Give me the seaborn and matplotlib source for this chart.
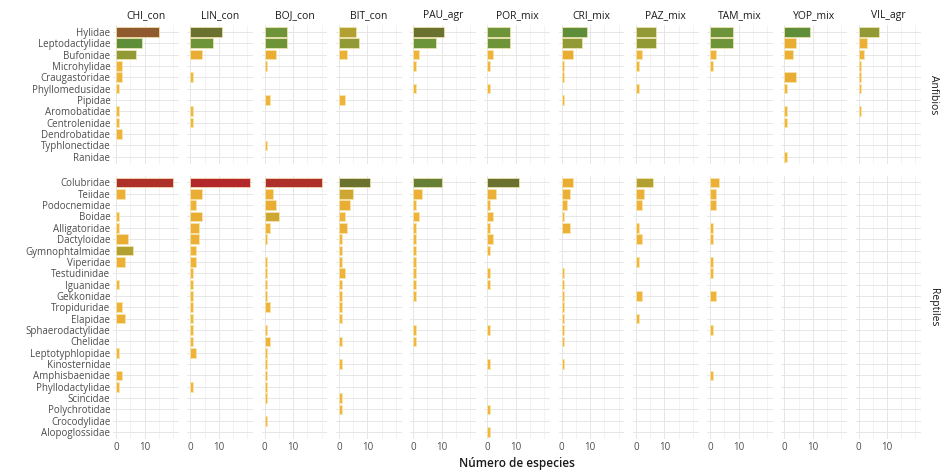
import matplotlib
matplotlib.use("Agg")
import matplotlib.pyplot as plt
from matplotlib.colors import LinearSegmentedColormap
import pandas as pd
import seaborn as sns

sitios = ["CHI_con", "LIN_con", "BOJ_con", "BIT_con", "PAU_agr", "POR_mix",
          "CRI_mix", "PAZ_mix", "TAM_mix", "YOP_mix", "VIL_agr"]

fam_anfibios = ["Hylidae", "Leptodactylidae", "Bufonidae", "Microhylidae",
                "Craugastoridae", "Phyllomedusidae", "Pipidae", "Aromobatidae",
                "Centrolenidae", "Dendrobatidae", "Typhlonectidae", "Ranidae"]

fam_reptiles = ["Colubridae", "Teiidae", "Podocnemidae", "Boidae", "Alligatoridae",
                "Dactyloidae", "Gymnophtalmidae", "Viperidae", "Testudinidae",
                "Iguanidae", "Gekkonidae", "Tropiduridae", "Elapidae",
                "Sphaerodactylidae", "Chelidae", "Leptotyphlopidae", "Kinosternidae",
                "Amphisbaenidae", "Phyllodactylidae", "Scincidae", "Polychrotidae",
                "Crocodylidae", "Alopoglossidae"]

# especies por familia y sitio (anfibios)
anf_CHI = [15, 9, 7, 2, 2, 1, 0, 1, 1, 2, 0, 0]
anf_LIN = [11, 8, 4, 0, 1, 0, 0, 1, 1, 0, 0, 0]
anf_BOJ = [8, 8, 4, 1, 0, 0, 2, 0, 0, 0, 1, 0]
anf_BIT = [6, 7, 3, 0, 0, 0, 2, 0, 0, 0, 0, 0]
anf_PAU = [11, 8, 2, 1, 0, 1, 0, 0, 0, 0, 0, 0]
anf_POR = [8, 8, 2, 1, 0, 1, 0, 0, 0, 0, 0, 0]
anf_CRI = [9, 7, 4, 1, 1, 0, 1, 0, 0, 0, 0, 0]
anf_PAZ = [7, 7, 2, 1, 0, 1, 0, 0, 0, 0, 0, 0]
anf_TAM = [8, 8, 2, 1, 0, 0, 0, 0, 0, 0, 0, 0]
anf_YOP = [9, 4, 3, 0, 4, 1, 0, 1, 1, 0, 0, 1]
anf_VIL = [7, 3, 2, 1, 1, 1, 0, 1, 0, 0, 0, 0]

# reptiles
rep_CHI = [20, 3, 0, 1, 1, 4, 6, 3, 0, 1, 0, 2, 3, 0, 0, 1, 0, 2, 1, 0, 0, 0, 0]
rep_LIN = [21, 4, 2, 4, 3, 3, 2, 2, 1, 1, 1, 1, 1, 1, 1, 2, 0, 0, 1, 0, 0, 0, 0]
rep_BOJ = [20, 3, 4, 5, 2, 1, 0, 1, 1, 1, 1, 2, 0, 1, 2, 1, 1, 1, 1, 1, 0, 1, 0]
rep_BIT = [11, 5, 4, 2, 3, 1, 1, 1, 2, 1, 1, 1, 1, 0, 1, 0, 1, 0, 0, 1, 1, 0, 0]
rep_PAU = [10, 3, 1, 2, 1, 1, 1, 1, 1, 1, 1, 0, 0, 1, 1, 0, 0, 0, 0, 0, 0, 0, 0]
rep_POR = [11, 3, 1, 2, 1, 2, 1, 0, 1, 1, 0, 0, 0, 1, 0, 0, 1, 0, 0, 0, 1, 0, 1]
rep_CRI = [4, 3, 2, 1, 3, 0, 0, 0, 1, 1, 1, 1, 1, 1, 1, 0, 1, 0, 0, 0, 0, 0, 0]
rep_PAZ = [6, 3, 2, 0, 1, 2, 0, 1, 0, 0, 2, 0, 1, 0, 0, 0, 0, 0, 0, 0, 0, 0, 0]
rep_TAM = [3, 2, 2, 0, 1, 1, 0, 1, 1, 0, 2, 0, 0, 1, 0, 0, 0, 1, 0, 0, 0, 0, 0]
rep_YOP = [0] * 23
rep_VIL = [0] * 23

anfibios = [anf_CHI, anf_LIN, anf_BOJ, anf_BIT, anf_PAU, anf_POR,
            anf_CRI, anf_PAZ, anf_TAM, anf_YOP, anf_VIL]
reptiles = [rep_CHI, rep_LIN, rep_BOJ, rep_BIT, rep_PAU, rep_POR,
            rep_CRI, rep_PAZ, rep_TAM, rep_YOP, rep_VIL]

# gradiente amarillo -> verde -> rojo
vmin, vmax = 1, 21
nodos = [(1, "#F2B63C"), (4, "#E9AD33"), (6, "#B3A030"), (8, "#6C9438"),
         (9, "#5E8E3A"), (11, "#6B7230"), (15, "#8E5A2E"), (21, "#B3282A")]
cmap = LinearSegmentedColormap.from_list(
    "esp", [((v - vmin) / (vmax - vmin), c) for v, c in nodos])

def color(v):
    return cmap((v - vmin) / (vmax - vmin))

sns.set_style("white")
plt.rcParams["font.family"] = ["Open Sans", "DejaVu Sans"]

fig, axes = plt.subplots(2, 11, figsize=(9.43, 4.72), dpi=100,
                         gridspec_kw={"height_ratios": [12.2, 23.2]})
fig.subplots_adjust(left=0.12, right=0.977, top=0.947, bottom=0.07,
                    wspace=0.13, hspace=0.06)

grupos = [("Anfibios", fam_anfibios, anfibios), ("Reptiles", fam_reptiles, reptiles)]

for r, (grupo, cats, datos) in enumerate(grupos):
    for c, sitio in enumerate(sitios):
        ax = axes[r, c]
        df = pd.DataFrame({"familia": cats, "n": datos[c]})
        df = df[df["n"] > 0]
        if len(df):
            pal = {f: color(v) for f, v in zip(df["familia"], df["n"])}
            sns.barplot(data=df, x="n", y="familia", order=cats, hue="familia",
                        palette=pal, saturation=1, legend=False, ax=ax, width=0.85,
                        edgecolor="#F6E7B0", linewidth=0.5, orient="h")
        ax.set_yticks(range(len(cats)))
        ax.set_yticklabels(cats)
        ax.set_ylim(len(cats) - 0.4, -0.6)
        ax.set_xlim(-1.05, 22.05)
        ax.set_xticks([0, 10])
        ax.set_xticklabels(["0", "10"])
        ax.set_xticks([5, 15, 20], minor=True)
        ax.set_axisbelow(True)
        ax.grid(True, which="major", color="#E6E6E6", lw=0.7)
        ax.grid(True, which="minor", axis="x", color="#EEEEEE", lw=0.5)
        ax.set_xlabel("")
        ax.set_ylabel("")
        for s in ax.spines.values():
            s.set_visible(False)
        ax.tick_params(length=0, which="both", labelsize=7, colors="#4D4D4D", pad=2)
        if c > 0:
            ax.tick_params(labelleft=False)
        if r == 0:
            ax.tick_params(labelbottom=False)
            ax.set_title(sitio, fontsize=7.5, color="#1A1A1A", pad=5)
        if c == len(sitios) - 1:
            ax.text(1.18, 0.5, grupo, transform=ax.transAxes, rotation=270,
                    ha="center", va="center", fontsize=7.5, color="#1A1A1A")

fig.text(0.548, 0.018, "Número de especies", ha="center", va="center",
         fontsize=8.5, color="#1A1A1A", fontweight="semibold")

fig.savefig("out.png", dpi=100)
